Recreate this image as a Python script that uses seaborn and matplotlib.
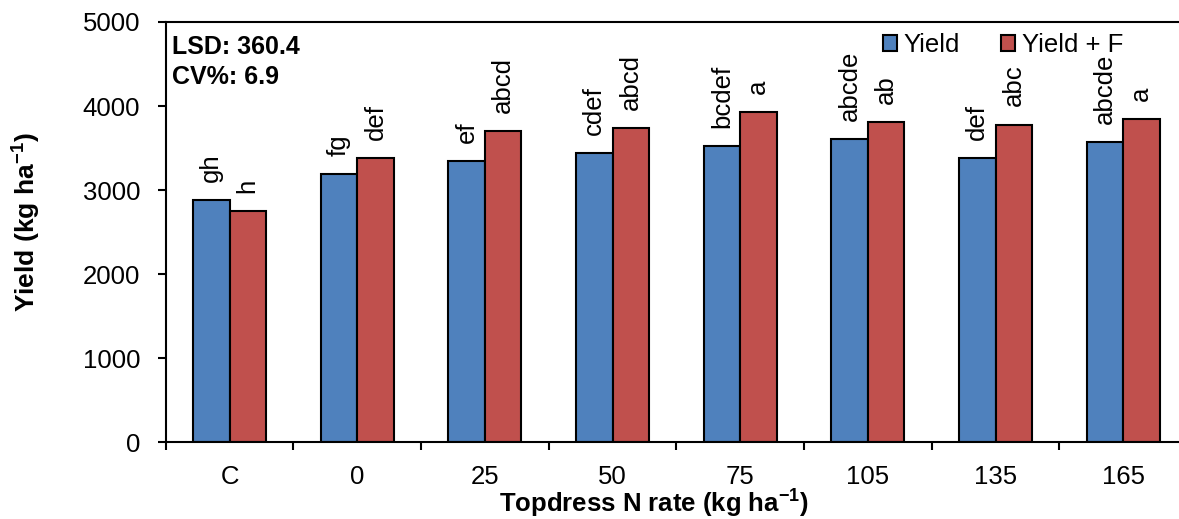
import pandas as pd
import matplotlib
matplotlib.use("Agg")
import matplotlib.pyplot as plt
import seaborn as sns

# data
rates = ['C', '0', '25', '50', '75', '105', '135', '165']
yield_plain = [2885, 3195, 3345, 3445, 3525, 3610, 3380, 3575]
yield_f = [2750, 3380, 3705, 3740, 3925, 3815, 3780, 3850]
letters_plain = ['gh', 'fg', 'ef', 'cdef', 'bcdef', 'abcde', 'def', 'abcde']
letters_f = ['h', 'def', 'abcd', 'abcd', 'a', 'ab', 'abc', 'a']
series_names = ['Yield', 'Yield + F']
colors = ['#4F81BD', '#C0504D']

df = pd.DataFrame({
    'rate': rates * 2,
    'value': yield_plain + yield_f,
    'series': [series_names[0]] * len(rates) + [series_names[1]] * len(rates),
})

sns.set_style('white')
plt.rcParams['font.family'] = ['Liberation Sans', 'DejaVu Sans']
plt.rcParams['mathtext.fontset'] = 'custom'
plt.rcParams['mathtext.rm'] = 'Liberation Sans'
plt.rcParams['mathtext.bf'] = 'Liberation Sans:bold'
for key in ['text.color', 'axes.labelcolor', 'xtick.color', 'ytick.color']:
    plt.rcParams[key] = 'black'

W, H = 1179, 519
fig = plt.figure(figsize=(W / 100, H / 100), dpi=100)
x0, x1, ytop, ybot = 165.7, 1187.0, 22.0, 442.3
ax = fig.add_axes([x0 / W, (H - ybot) / H, (x1 - x0) / W, (ybot - ytop) / H])

sns.barplot(data=df, x='rate', y='value', hue='series', order=rates,
            hue_order=series_names, palette=colors, width=0.57,
            edgecolor='black', linewidth=1.5, saturation=1, ax=ax)

ax.set_ylim(0, 5000)
ax.set_xlim(-0.5, len(rates) - 0.5)
ax.set_yticks(range(0, 5001, 1000))
ax.tick_params(axis='y', which='major', direction='out', length=5.5, width=1.5,
               pad=13, labelsize=18.5, left=True, color='black')

# ticks between groups, labels at group centres
ax.set_xticks([i - 0.5 for i in range(len(rates) + 1)])
ax.set_xticklabels([])
ax.set_xticks(range(len(rates)), minor=True)
ax.set_xticklabels(rates, minor=True)
ax.tick_params(axis='x', which='major', direction='out', length=6, width=1.5,
               bottom=True, color='black')
ax.tick_params(axis='x', which='minor', length=0, pad=16, labelsize=18.5)

for side in ['left', 'bottom', 'top', 'right']:
    ax.spines[side].set_visible(True)
    ax.spines[side].set_color('black')
    ax.spines[side].set_linewidth(1.5)

ax.set_xlabel('')
ax.set_ylabel('')

# significance letters above the bars
for cont, labs in zip(ax.containers, [letters_plain, letters_f]):
    for bar, lab in zip(cont, labs):
        ax.annotate(lab, (bar.get_x() + bar.get_width() / 2, bar.get_height()),
                    xytext=(0, 13), textcoords='offset points', rotation=90,
                    ha='center', va='bottom', fontsize=18.5)

handles, labels = ax.get_legend_handles_labels()
ax.legend(handles, labels, loc='center left',
          bbox_to_anchor=(883 / W, (H - 45) / H), bbox_transform=fig.transFigure,
          ncol=2, frameon=False, fontsize=18.5, handlelength=0.55,
          handleheight=0.55, handletextpad=0.25, columnspacing=1.6,
          borderpad=0, borderaxespad=0)

fig.text(172 / W, (H - 54) / H, 'LSD: 360.4', fontsize=18, fontweight='bold',
         ha='left', va='baseline')
fig.text(172 / W, (H - 84) / H, 'CV%: 6.9', fontsize=18, fontweight='bold',
         ha='left', va='baseline')

fig.text(26 / W, (H - 222) / H, r'Yield (kg ha$^{\mathbf{-1}}$)', rotation=90,
         fontsize=19, fontweight='bold', ha='center', va='center')
fig.text(654 / W, (H - 512) / H, r'Topdress N rate (kg ha$^{\mathbf{-1}}$)',
         fontsize=18.5, fontweight='bold', ha='center', va='baseline')

fig.savefig('out.png', dpi=100)
